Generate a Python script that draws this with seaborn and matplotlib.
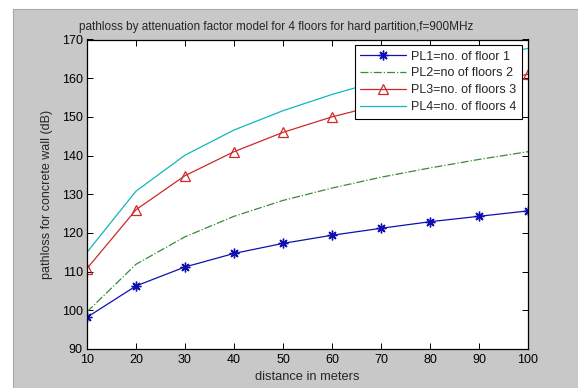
import matplotlib
matplotlib.use("Agg")
import matplotlib.pyplot as plt
from matplotlib.patches import Rectangle
import numpy as np
import pandas as pd
import seaborn as sns

# distance (m) and path loss (dB) for 1..4 floors
distance = [10, 20, 30, 40, 50, 60, 70, 80, 90, 100]
pl1 = [98.2, 106.3, 111.2, 114.7, 117.3, 119.4, 121.2, 122.9, 124.3, 125.7]
pl2 = [99.6, 111.9, 119.0, 124.3, 128.4, 131.6, 134.4, 136.8, 139.0, 141.0]
pl3 = [110.8, 126.0, 134.8, 141.0, 146.0, 150.0, 153.2, 156.1, 158.7, 161.0]
pl4 = [115.0, 130.8, 140.1, 146.6, 151.6, 155.8, 159.4, 162.5, 165.2, 167.7]
labels = ["PL1=no. of floor 1", "PL2=no of floors 2",
          "PL3=no. of floors 3", "PL4=no. of floors 4"]

sns.set_style("ticks")
plt.rcParams["font.family"] = ["Liberation Sans", "DejaVu Sans"]
plt.rcParams["font.size"] = 9

W, H = 578, 388
fig = plt.figure(figsize=(W / 100, H / 100), dpi=100, facecolor="white")
# grey window background
fig.patches.append(Rectangle((13 / W, 0), 1 - 13 / W, (H - 9) / H,
                             transform=fig.transFigure, facecolor="#c8c8c8",
                             edgecolor="#a8a8a8", linewidth=0.8, zorder=-10))

ax = fig.add_axes([87 / W, (H - 349) / H, (528 - 87) / W, (349 - 39.5) / H])
ax.set_facecolor("white")

df = pd.DataFrame({"distance": distance, "PL1": pl1, "PL2": pl2,
                   "PL3": pl3, "PL4": pl4})

asterisk = (8, 2, 0)
sns.lineplot(data=df, x="distance", y="PL1", ax=ax, color="#1010b0",
             marker=asterisk, markersize=7, markeredgecolor="#1010b0",
             markeredgewidth=1.0, linewidth=0.9, label=labels[0])
sns.lineplot(data=df, x="distance", y="PL2", ax=ax, color="#3a8a3a",
             linestyle="-.", linewidth=0.9, label=labels[1])
sns.lineplot(data=df, x="distance", y="PL3", ax=ax, color="#cc2a2a",
             marker="^", markersize=7, markerfacecolor="none",
             markeredgecolor="#cc2a2a", markeredgewidth=0.9,
             linewidth=0.9, label=labels[2])
sns.lineplot(data=df, x="distance", y="PL4", ax=ax, color="#10b8b8",
             linewidth=0.9, label=labels[3])

ax.set_xlim(10, 100)
ax.set_ylim(90, 170)
ax.set_xticks(np.arange(10, 101, 10))
ax.set_yticks(np.arange(90, 171, 10))
ax.tick_params(direction="in", top=True, right=True, length=4, width=0.7,
               labelsize=9, colors="black")
ax.tick_params(axis="x", pad=3.5)
ax.tick_params(axis="y", pad=3)
for s in ax.spines.values():
    s.set_visible(True)
    s.set_color("black")
    s.set_linewidth(0.9)

ax.set_xlabel("distance in meters", fontsize=9.3, labelpad=3.5)
ax.set_ylabel("pathloss for concrete wall (dB)", fontsize=9, labelpad=6)
ax.set_title("pathloss by attenuation factor model for 4 floors for hard partition,f=900MHz",
             fontsize=8.5, pad=7, x=(276 - 87) / 441)

leg = ax.legend(loc="upper right", fontsize=9, frameon=True, fancybox=False,
                edgecolor="black", facecolor="white", framealpha=1,
                numpoints=1, handlelength=3.7, handletextpad=0.4,
                borderpad=0.45, labelspacing=0.38, borderaxespad=0.45)
leg.get_frame().set_linewidth(0.8)

fig.savefig("out.png", dpi=100, facecolor=fig.get_facecolor())
